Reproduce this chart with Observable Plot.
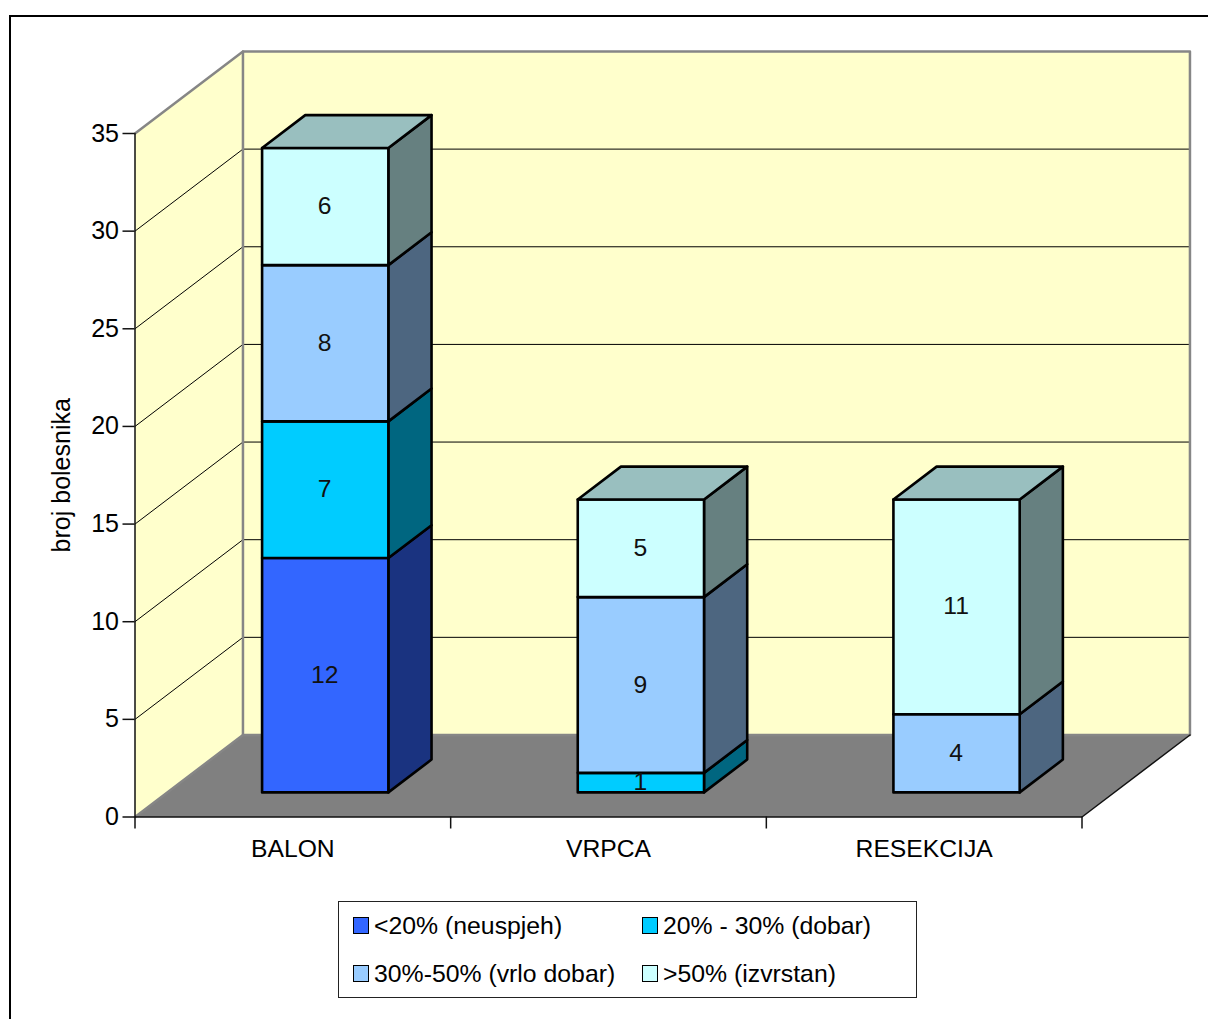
<!DOCTYPE html>
<html>
<head>
<meta charset="utf-8">
<script src="https://cdn.jsdelivr.net/npm/d3@7"></script>
<script src="https://cdn.jsdelivr.net/npm/@observablehq/plot@0.6"></script>
<style>
html,body{margin:0;padding:0;background:#fff;width:1208px;height:1019px;overflow:hidden;font-family:"Liberation Sans",Arial,sans-serif;color:#000}
#frame{position:absolute;left:9px;top:15px;right:0;bottom:0;border-left:2.5px solid #000;border-top:2.5px solid #000}
#chart{position:absolute;left:0;top:0}
#legend{position:absolute;left:337.5px;top:900.5px;width:577px;height:95px;border:1px solid #222;background:#fff;font-size:24.8px}
.key{position:absolute;display:flex;align-items:center;white-space:nowrap;height:28px}
.sw{display:inline-block;width:14.5px;height:14.5px;border:1.5px solid #000;margin-right:5px}
</style>
</head>
<body>
<div id="frame"></div>
<div id="chart"></div>
<div id="legend"></div>
<script>
const categories = ["BALON", "VRPCA", "RESEKCIJA"];
const seriesNames = ["<20% (neuspjeh)", "20% - 30% (dobar)", "30%-50% (vrlo dobar)", ">50% (izvrstan)"];
const neuspjeh = [12, 0, 0];
const dobar = [7, 1, 0];
const vrloDobar = [8, 9, 4];
const izvrstan = [6, 5, 11];
const seriesValues = [neuspjeh, dobar, vrloDobar, izvrstan];
const frontColors = ["#3366FF", "#00CCFF", "#99CCFF", "#CCFFFF"];
const sideColors = ["#1A3380", "#006680", "#4D6680", "#668080"];
const topColor = "#99BFBF";
const yTicks = [0, 5, 10, 15, 20, 25, 30, 35];
const xTicks = [0, 1, 2, 3];

// oblique projection of the chart's 3D box, in data units
const depthX = 0.342, depthY = 4.2;
const P = (u, v, d) => ({x: u + d * depthX, y: v + d * depthY});
const poly = (id, fill, pts) => [...pts, pts[0]].map(([u, v, d]) => ({id, fill, ...P(u, v, d)}));

const backWall = poly("back", "#FFFFCC", [[0,0,1],[3,0,1],[3,35,1],[0,35,1]]);
const sideWall = poly("side", "#FFFFCC", [[0,0,0],[0,0,1],[0,35,1],[0,35,0]]);
const floor = poly("floor", "#808080", [[0,0,0],[3,0,0],[3,0,1],[0,0,1]]);

const grid = yTicks.filter(t => t > 0 && t < 35).flatMap(t => [
  {id: "g" + t, ...P(0, t, 0)}, {id: "g" + t, ...P(0, t, 1)}, {id: "g" + t, ...P(3, t, 1)}
]);
const wallEdge = [
  {id: "a", ...P(0,0,1)}, {id: "a", ...P(0,35,1)}, {id: "a", ...P(3,35,1)}, {id: "a", ...P(3,0,1)}, {id: "a", ...P(0,0,1)},
  {id: "b", ...P(0,35,1)}, {id: "b", ...P(0,35,0)},
  {id: "c", ...P(0,0,0)}, {id: "c", ...P(0,0,1)}
];
const axisEdge = [
  {id: "y", ...P(0,35,0)}, {id: "y", ...P(0,0,0)}, {id: "y", ...P(3,0,0)}, {id: "y", ...P(3,0,1)}
];

const barW = 0.4, d0 = 0.3, d1 = 0.7;
const faces = [], valueLabels = [];
categories.forEach((cat, i) => {
  const a = i + 0.5 - barW / 2, b = i + 0.5 + barW / 2;
  let base = 0;
  seriesValues.forEach((vals, s) => {
    const v = vals[i];
    if (!v) return;
    const t = base + v;
    faces.push(...poly(`s${i}${s}`, sideColors[s], [[b,base,d0],[b,base,d1],[b,t,d1],[b,t,d0]]));
    faces.push(...poly(`f${i}${s}`, frontColors[s], [[a,base,d0],[b,base,d0],[b,t,d0],[a,t,d0]]));
    valueLabels.push({...P(i + 0.5, base + v / 2, d0), text: String(v)});
    base = t;
  });
  faces.push(...poly(`t${i}`, topColor, [[a,base,d0],[b,base,d0],[b,base,d1],[a,base,d1]]));
});

const W = 1208, H = 890;
const chart = Plot.plot({
  width: W, height: H,
  marginLeft: 134.5, marginRight: W - 1081.5, marginTop: 133, marginBottom: H - 816.5,
  style: {background: "transparent", fontFamily: "'Liberation Sans', Arial, sans-serif", fontSize: "25px", color: "#000"},
  x: {type: "linear", domain: [0, 3], range: [134.5, 1081.5]},
  y: {type: "linear", domain: [0, 35], range: [816.5, 133]},
  color: {type: "identity"},
  marks: [
    Plot.line(backWall, {x: "x", y: "y", z: "id", fill: "fill", stroke: "none"}),
    Plot.line(sideWall, {x: "x", y: "y", z: "id", fill: "fill", stroke: "none"}),
    Plot.line(floor, {x: "x", y: "y", z: "id", fill: "fill", stroke: "none"}),
    Plot.line(grid, {x: "x", y: "y", z: "id", stroke: "#000", strokeWidth: 1}),
    Plot.line(wallEdge, {x: "x", y: "y", z: "id", stroke: "#868686", strokeWidth: 2.5}),
    Plot.line(axisEdge, {x: "x", y: "y", z: "id", stroke: "#111", strokeWidth: 1.5}),
    Plot.line(faces, {x: "x", y: "y", z: "id", fill: "fill", stroke: "#000", strokeWidth: 2.6, strokeLinejoin: "round"}),
    Plot.text(valueLabels, {x: "x", y: "y", text: "text", fontSize: 24.7, dx: -0.5, dy: -0.3, fill: "#111"}),
    Plot.axisY({ticks: yTicks, tickSize: 12, tickPadding: 4, fontSize: 25, label: "broj bolesnika", labelAnchor: "center", labelArrow: "none", labelOffset: 83, stroke: "#111", strokeWidth: 1.5, fill: "#000", strokeOpacity: 1}),
    Plot.axisX({ticks: xTicks, tickSize: 12, tickFormat: () => "", label: null, stroke: "#111", strokeWidth: 1.5, strokeOpacity: 1}),
    Plot.axisX({ticks: [0.5, 1.5, 2.5], tickSize: 0, tickPadding: 22, fontSize: 24.7, fill: "#000", tickFormat: d => categories[Math.floor(d)], label: null})
  ]
});
document.getElementById("chart").append(chart);

const legend = document.getElementById("legend");
const spots = [[14, 10], [303, 10], [14, 58], [303, 58]];
seriesNames.forEach((name, s) => {
  const k = document.createElement("div");
  k.className = "key";
  k.style.left = spots[s][0] + "px";
  k.style.top = spots[s][1] + "px";
  const sw = document.createElement("span");
  sw.className = "sw";
  sw.style.background = frontColors[s];
  k.append(sw, document.createTextNode(name));
  legend.append(k);
});
</script>
</body>
</html>
